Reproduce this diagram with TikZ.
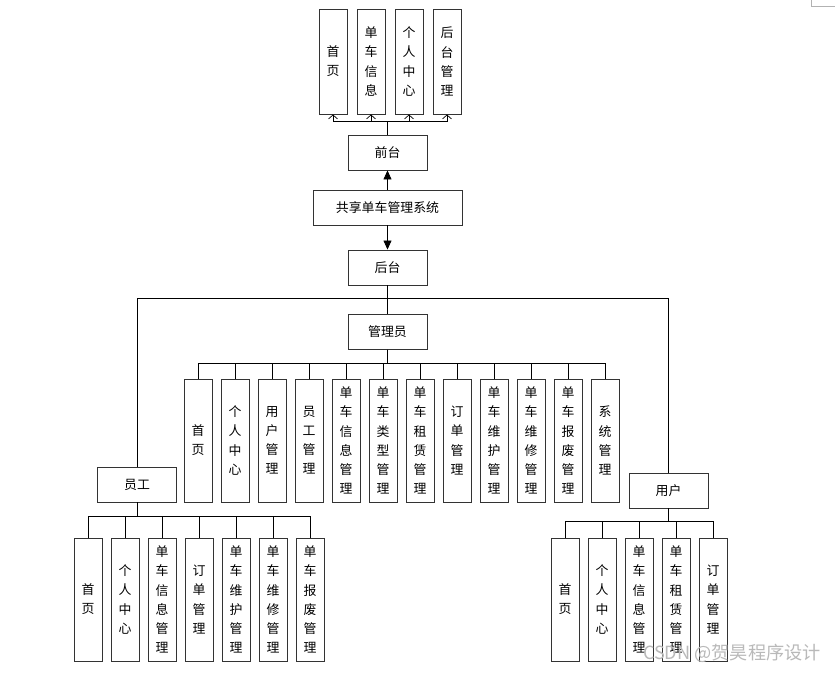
\documentclass[tikz,border=0pt]{standalone}
\usepackage{fontspec}
\setmainfont{Noto Sans CJK SC}
\usetikzlibrary{arrows.meta}
\tikzset{
  box/.style={draw=black!80, line width=0.8pt, fill=white, inner sep=0pt, align=center,
    font=\fontsize{11}{16.3}\selectfont},
  wide/.style={box, minimum width=2.37cm, minimum height=1.05cm},
  tall/.style={box, minimum width=0.84cm, minimum height=3.69cm},
  toptall/.style={box, minimum width=0.84cm, minimum height=3.15cm},
  link/.style={black, line width=0.6pt},
  solidtip/.style={link, -{Triangle[length=0.27cm,width=0.24cm]}},
  opentip/.style={link, -{Straight Barb[length=0.12cm,width=0.27cm]}}
}
\begin{document}
\begin{tikzpicture}[x=0.03cm,y=-0.03cm]
				%%%%% START %%%%%
				\useasboundingbox[fill=white] (0,0) rectangle (835,673);
				\draw[gray!60, line width=0.6pt] (811,0) |- (835,6);
				
				% front end
				\node[wide] (qt) at (387.5,152.5) {前台};
				\foreach \i/\x/\t in {1/333/首\\页, 2/371/单\\车\\信\\息, 3/409/个\\人\\中\\心, 4/447/后\\台\\管\\理}
				{
					\node[toptall] (t\i) at (\x,61.5) {\t};
					\draw[opentip] (qt.north) -- ++(0,-13) -| (t\i.south);
				}
				
				% system
				\node[wide, minimum width=4.47cm] (sys) at (387.5,207.5) {共享单车管理系统};
				\node[wide] (ht) at (387.5,267.5) {后台};
				\draw[solidtip] (sys.north) -- (qt.south);
				\draw[solidtip] (sys.south) -- (ht.north);
				
				% roles
				\node[wide] (adm) at (387.5,332) {管理员};
				\node[wide] (yg) at (137,484.5) {员工};
				\node[wide] (yh) at (668.5,490.5) {用户};
				\draw[link] (ht.south) -- (adm.north);
				\draw[link] (ht.south) -- ++(0,13) -| (yg.north);
				\draw[link] (ht.south) -- ++(0,13) -| (yh.north);
				
				% admin modules
				\foreach \i/\t in {0/首\\页, 1/个\\人\\中\\心, 2/用\\户\\管\\理, 3/员\\工\\管\\理,
					4/单\\车\\信\\息\\管\\理, 5/单\\车\\类\\型\\管\\理, 6/单\\车\\租\\赁\\管\\理,
					7/订\\单\\管\\理, 8/单\\车\\维\\护\\管\\理, 9/单\\车\\维\\修\\管\\理,
					10/单\\车\\报\\废\\管\\理, 11/系\\统\\管\\理}
				{
					\node[tall] (a\i) at ({198+37*\i},440.5) {\t};
					\draw[link] (adm.south) -- ++(0,13) -| (a\i.north);
				}
				
				% staff modules
				\foreach \i/\t in {0/首\\页, 1/个\\人\\中\\心, 2/单\\车\\信\\息\\管\\理, 3/订\\单\\管\\理,
					4/单\\车\\维\\护\\管\\理, 5/单\\车\\维\\修\\管\\理, 6/单\\车\\报\\废\\管\\理}
				{
					\node[tall] (e\i) at ({88+37*\i},599.5) {\t};
					\draw[link] (yg.south) -- ++(0,14) -| (e\i.north);
				}
				
				% user modules
				\foreach \i/\t in {0/首\\页, 1/个\\人\\中\\心, 2/单\\车\\信\\息\\管\\理,
					3/单\\车\\租\\赁\\管\\理, 4/订\\单\\管\\理}
				{
					\node[tall] (u\i) at ({565+37*\i},599.5) {\t};
					\draw[link] (yh.south) -- ++(0,13) -| (u\i.north);
				}
				
				\node[text=gray!55, font=\fontsize{15.5}{16}\selectfont, anchor=east, inner sep=0pt] (mark) at (821,653) {CSDN @贺昊程序设计};
				%%%%% END %%%%%
\end{tikzpicture}
\end{document}
